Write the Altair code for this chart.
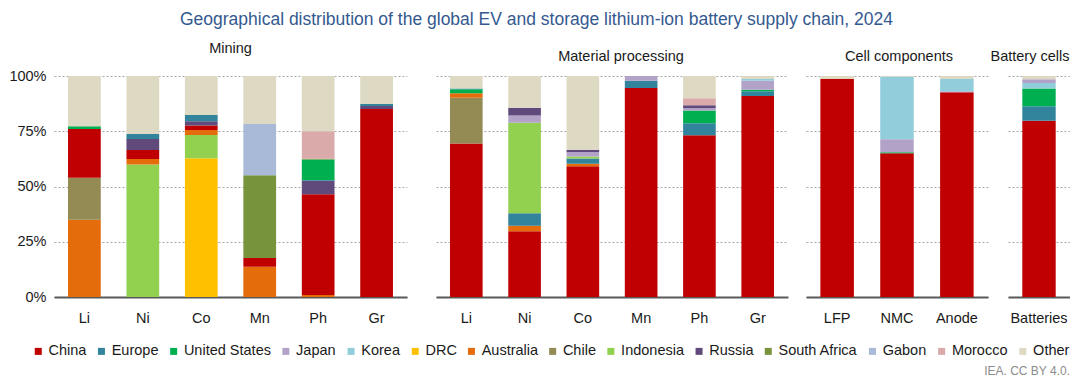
import altair as alt
import pandas as pd

TITLE = "Geographical distribution of the global EV and storage lithium-ion battery supply chain, 2024"
CREDIT = "IEA. CC BY 4.0."

COUNTRIES = ["China", "Europe", "United States", "Japan", "Korea", "DRC", "Australia",
             "Chile", "Indonesia", "Russia", "South Africa", "Gabon", "Morocco", "Other"]
COLORS = ["#C00000", "#31849B", "#00B050", "#B3A2C7", "#92CDDC", "#FFC000", "#E46C0A",
          "#948A54", "#92D050", "#604A7B", "#77933C", "#A9B9D8", "#DAA9A9", "#DDD9C3"]

# Mining (segments listed bottom to top, % share)
mining_bars = ["Li", "Ni", "Co", "Mn", "Ph", "Gr"]
mining_li = [("Australia", 35), ("Chile", 19), ("China", 22), ("United States", 1.3), ("Other", 22.7)]
mining_ni = [("Indonesia", 60), ("Australia", 2.5), ("China", 4), ("Russia", 5), ("Europe", 2.3), ("Other", 26.2)]
mining_co = [("DRC", 62.8), ("Indonesia", 10.5), ("Australia", 2.3), ("China", 2), ("Russia", 1.9),
             ("Europe", 2.9), ("Other", 17.6)]
mining_mn = [("Australia", 13.7), ("China", 3.9), ("South Africa", 37.5), ("Gabon", 23.2), ("Other", 21.7)]
mining_ph = [("Australia", 0.9), ("China", 45.6), ("Russia", 6.1), ("Europe", 0.3), ("United States", 9.3),
             ("South Africa", 0.4), ("Morocco", 12.4), ("Other", 25)]
mining_gr = [("China", 85.1), ("Russia", 1.3), ("Europe", 0.9), ("Other", 12.7)]

# Material processing
processing_bars = ["Li", "Ni", "Co", "Mn", "Ph", "Gr"]
processing_li = [("China", 69.5), ("Chile", 20.7), ("Australia", 2), ("United States", 1.8), ("Europe", 0.4),
                 ("Other", 5.6)]
processing_ni = [("China", 29.8), ("Australia", 2.4), ("Europe", 5.7), ("Indonesia", 41), ("Japan", 3.2),
                 ("Russia", 3.5), ("Other", 14.4)]
processing_co = [("China", 59.2), ("Australia", 1.1), ("Europe", 2.4), ("Indonesia", 0.9), ("Japan", 2),
                 ("Russia", 1), ("Other", 33.4)]
processing_mn = [("China", 94.6), ("Europe", 3.3), ("Japan", 2.1)]
processing_ph = [("China", 73.2), ("Europe", 5.4), ("United States", 5.8), ("Japan", 1), ("Russia", 1.4),
                 ("Morocco", 3.1), ("Other", 10.1)]
processing_gr = [("China", 91), ("Europe", 2.1), ("United States", 0.7), ("Japan", 4.1), ("Korea", 0.7),
                 ("Other", 1.4)]

# Cell components
component_bars = ["LFP", "NMC", "Anode"]
component_lfp = [("China", 98.6), ("Other", 1.4)]
component_nmc = [("China", 65), ("United States", 0.5), ("Japan", 5.9), ("Korea", 28.3), ("Other", 0.3)]
component_anode = [("China", 92.6), ("Japan", 0.5), ("Korea", 5.5), ("Other", 1.4)]

# Battery cells
cell_bars = ["Batteries"]
cell_batteries = [("China", 79.7), ("Europe", 6.6), ("United States", 8.1), ("Korea", 2.4), ("Japan", 1.7),
                  ("Other", 1.5)]

groups = [
    ("Mining", mining_bars, [mining_li, mining_ni, mining_co, mining_mn, mining_ph, mining_gr]),
    ("Material processing", processing_bars, [processing_li, processing_ni, processing_co, processing_mn,
                                              processing_ph, processing_gr]),
    ("Cell components", component_bars, [component_lfp, component_nmc, component_anode]),
    ("Battery cells", cell_bars, [cell_batteries]),
]

records = []
for stage, bars, segs_list in groups:
    for bar, segs in zip(bars, segs_list):
        for i, (country, val) in enumerate(segs):
            records.append({"stage": stage, "bar": bar, "country": country, "value": val, "order": i})
df = pd.DataFrame(records)

FONT = "Liberation Sans"
PLOT_H = 221


def bars_chart(stage, bars, first):
    if first:
        yaxis = alt.Axis(title=None, format=".0%", values=[0, 0.25, 0.5, 0.75, 1], ticks=False,
                         domain=False, labelPadding=8, labelFontSize=14.5, labelColor="#1a1a1a",
                         grid=True, gridColor="#A6A6A6", gridDash=[2, 2], gridWidth=1)
    else:
        yaxis = alt.Axis(title=None, labels=False, values=[0, 0.25, 0.5, 0.75, 1], ticks=False,
                         domain=False, grid=True, gridColor="#A6A6A6", gridDash=[2, 2], gridWidth=1,
                         minExtent=0)
    return alt.Chart(df).transform_filter(alt.datum.stage == stage).mark_bar().encode(
        x=alt.X("bar:N", sort=bars, scale=alt.Scale(paddingInner=0.44, paddingOuter=0.24),
                axis=alt.Axis(title=None, labelAngle=0, ticks=False, domainColor="#595959",
                              domainWidth=2, labelPadding=14, labelFontSize=14.5,
                              labelColor="#1a1a1a")),
        y=alt.Y("value:Q", stack="normalize", scale=alt.Scale(domain=[0, 1]), axis=yaxis),
        color=alt.Color("country:N", scale=alt.Scale(domain=COUNTRIES, range=COLORS),
                        legend=alt.Legend(title=None, orient="none", legendX=-23, legendY=268,
                                          direction="horizontal", columns=14, symbolType="square",
                                          symbolSize=49, symbolStrokeWidth=0, labelFontSize=14.5,
                                          labelColor="#1a1a1a", columnPadding=7.2, labelOffset=3)),
        order=alt.Order("order:Q"),
    )


def panel_title(text, dx=0):
    return alt.TitleParams(text, fontSize=14.5, fontWeight="normal", color="#1a1a1a", anchor="middle",
                           offset=12, dx=dx)


mining = bars_chart("Mining", mining_bars, True).properties(
    width=353, height=PLOT_H, title=panel_title("Mining"))
processing = bars_chart("Material processing", processing_bars, False).properties(
    width=352, height=PLOT_H, title=panel_title("Material processing", 9))
components = bars_chart("Cell components", component_bars, False).properties(
    width=182, height=PLOT_H, title=panel_title("Cell components", 2))
batteries = bars_chart("Battery cells", cell_bars, False).properties(
    width=62, height=PLOT_H, title=panel_title("Battery cells", -9))

inner2 = alt.hconcat(components, batteries, spacing=20, bounds="flush")
inner1 = alt.hconcat(processing, inner2, spacing=18, bounds="flush")
panels = alt.hconcat(mining, inner1, spacing=29, bounds="flush").properties(
    title=alt.TitleParams(TITLE, fontSize=17.5, fontWeight="normal", color="#34598F", anchor="middle",
                          dx=-3, offset=12)
)
chart = alt.hconcat(panels, spacing=0, bounds="flush").properties(
    title=alt.TitleParams(CREDIT, orient="bottom", anchor="end", fontSize=12, fontWeight="normal",
                          color="#8c8c8c", offset=8),
    padding={"left": 0, "top": 3, "right": 0, "bottom": 0},
).configure(font=FONT).configure_view(stroke=None)

chart.save("out.html", embed_options={"renderer": "svg", "actions": False})
